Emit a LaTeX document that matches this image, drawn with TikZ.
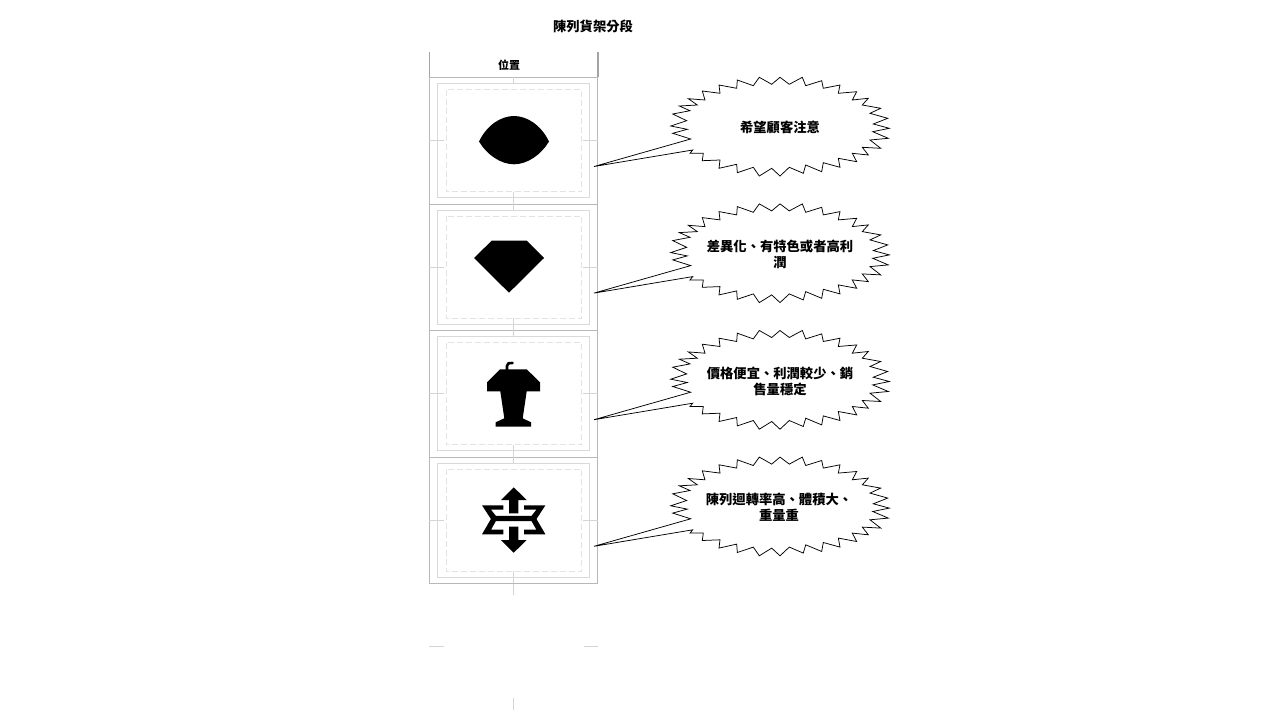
\documentclass[tikz,border=0pt]{standalone}
\usepackage{fontspec}
\setmainfont{Noto Sans CJK TC}
\tikzset{
  x=1pt,y=-1pt,
  outerline/.style={draw=black!28,line width=1pt},
  innerline/.style={draw=black!15,line width=1pt},
  dashline/.style={draw=black!11,line width=1pt,dash pattern=on 6pt off 3pt},
  tickline/.style={draw=black!17,line width=0.8pt},
  headline/.style={draw=black!36,line width=1.2pt},
  burstline/.style={draw=black,fill=white,line width=0.75pt,line join=miter,miter limit=10},
  icon/.style={fill=black,draw=none},
  labeltext/.style={font=\fontsize{13.3}{16}\selectfont\bfseries,align=center,inner sep=0pt},
  headtext/.style={font=\fontsize{11}{13}\selectfont\bfseries,inner sep=0pt},
  cellframe/.pic={
    \draw[tickline] (-84.7,0)--(-69.7,0) (69.7,0)--(84.7,0);
    \draw[tickline] (0,-63.3)--(0,-57) (0,51)--(0,63.3);
    \draw[innerline] (-76.2,-57)rectangle(75.8,57);
    \draw[dashline] (-67.7,-51)rectangle(68,51.3);
  },
  burstshape/.pic={
    \draw[burstline] (0,-49.7)--(9.3,-42.7)--(22.3,-49.7)--(25.7,-41.3)--(41.7,-46.3)--(43.3,-38.7)--(60,-42)--(58.3,-33.7)--(76.7,-35.3)--(72.3,-27)--(88.3,-28.7)--(82.3,-22)--(100.7,-18.7)--(90,-13.7)--(107.7,-8.7)--(93.3,-3)--(109.3,1.3)--(92.7,4.7)--(108.3,11.3)--(90,13)--(100.7,21.3)--(82.3,20.3)--(88.3,28)--(72.3,26.3)--(76.7,34.7)--(58.3,31.3)--(60,40.3)--(43.3,35.7)--(41.7,44.7)--(25.7,38)--(23.3,46.3)--(9.3,40.3)--(0,49)--(-8.3,41.3)--(-20.7,49)--(-26.7,40.3)--(-42.7,45.7)--(-43.3,37.3)--(-61,41.3)--(-60,33)--(-77.7,33.7)--(-76.7,26.3)--(-90,26.3)--(-87.3,23)--(-186,39.5)--(-89.3,12)--(-107.3,6.3)--(-92.7,2.3)--(-109.3,-1)--(-93.3,-6.3)--(-107.3,-13)--(-90,-16.3)--(-100.7,-21)--(-82.7,-22)--(-91.7,-28.3)--(-75,-27)--(-77.7,-36)--(-60,-33.7)--(-61,-42)--(-43.3,-38.7)--(-42.7,-47)--(-26.7,-41.3)--(-20.7,-49.7)--(-8.3,-42.7)--cycle;
  }
}
\begin{document}
\begin{tikzpicture}
\useasboundingbox (0,0) rectangle (1280,720);
\fill[white] (0,0) rectangle (1280,720);
% title and header
\node[labeltext] (title) at (593,26) {陳列貨架分段};
\node[headtext] (position) at (509,65) {位置};
\draw[headline] (429.5,52)--(429.5,77) (598,52)--(598,77);
% outer rows
\draw[outerline] (429.3,77.5) rectangle (597.8,204);
\draw[outerline] (429.3,204) rectangle (597.8,330.5);
\draw[outerline] (429.3,330.5) rectangle (597.8,457);
\draw[outerline] (429.3,457) rectangle (597.8,583.5);
\pic at (513.7,140.5) {cellframe};
\pic at (513.7,267) {cellframe};
\pic at (513.7,393.5) {cellframe};
\pic at (513.7,520) {cellframe};
% leftover guides
\draw[tickline] (513.7,583.5)--(513.7,595) (429,646.5)--(444,646.5) (584,646.5)--(598,646.5) (513.7,698)--(513.7,710);
% eye
\fill[icon] (479,141.5) .. controls (487,125) and (501,116) .. (514,116) .. controls (527,116) and (541,125) .. (549,141.5) .. controls (541,155) and (527,164.3) .. (514,164.3) .. controls (501,164.3) and (487,155) .. cycle;
% diamond
\fill[icon] (491.7,240.7)--(526.7,240.7)--(544,258)--(509,292.7)--(474,258)--cycle;
% podium
\fill[icon] (500,369.3)--(526.7,369.3)--(540,382.3)--(540,391.3)--(526.7,391.3)--(522.7,418.3)--(531,422.3)--(531,426.7)--(495.7,426.7)--(495.7,422.3)--(504.3,418.3)--(500.3,391.3)--(487,391.3)--(487,382.3)--cycle;
\draw[line width=2.6pt,line cap=round] (507,370) -- (507,366) .. controls (507,363.5) and (508.5,363) .. (512.5,363);
% star with arrows
\fill[icon,even odd rule]
  (482,505.3)--(503.3,505.3)--(503.3,509.7)--(491,509.7)--(495.8,515.8)--(531.6,515.8)--(536.4,509.7)--(524.1,509.7)--(524.1,505.3)--(545.4,505.3)--(536.5,519)--(545.4,534.3)--(524.1,534.3)--(524.1,529.7)--(536.4,529.7)--(531.6,521.2)--(495.8,521.2)--(491,529.7)--(503.3,529.7)--(503.3,534.3)--(482,534.3)--(490.9,519)--cycle;
\fill[icon] (513.7,487.3)--(526.7,500)--(518.3,500)--(518.3,513.3)--(509,513.3)--(509,500)--(501,500)--cycle;
\fill[icon] (513.7,552.7)--(526.7,540)--(518.3,540)--(518.3,526.7)--(509,526.7)--(509,540)--(501,540)--cycle;
% bursts
\pic at (780,127) {burstshape};
\pic at (780,253.6) {burstshape};
\pic at (780,380.2) {burstshape};
\pic at (780,506.8) {burstshape};
\node[labeltext] (labelA) at (780,127.5) {希望顧客注意};
\node[labeltext] (labelB) at (780,254) {差異化、有特色或者高利\\潤};
\node[labeltext] (labelC) at (780,381) {價格便宜、利潤較少、銷\\售量穩定};
\node[labeltext] (labelD) at (779,507.5) {陳列迴轉率高、體積大、\\重量重};
\end{tikzpicture}
\end{document}
